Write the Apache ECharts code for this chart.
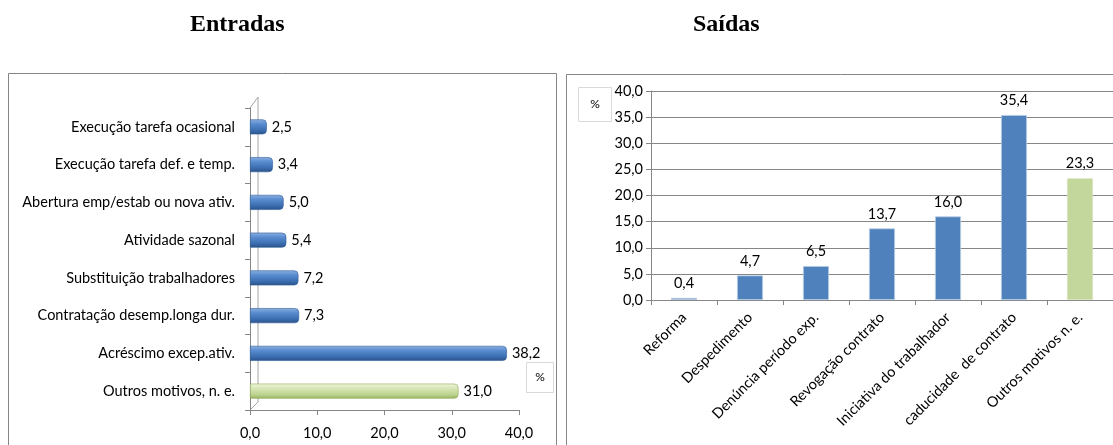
<!DOCTYPE html>
<html>
<head>
<meta charset="utf-8">
<script src="https://cdn.jsdelivr.net/npm/echarts@6/dist/echarts.min.js"></script>
<style>
html,body{margin:0;padding:0;background:#fff;}
#c{width:1113px;height:445px;}
</style>
</head>
<body>
<div id="c"></div>
<script>
// ---- Data ----
const entradasCategories = [
  'Execução tarefa ocasional',
  'Execução tarefa def. e temp.',
  'Abertura emp/estab ou nova ativ.',
  'Atividade sazonal',
  'Substituição trabalhadores',
  'Contratação desemp.longa dur.',
  'Acréscimo excep.ativ.',
  'Outros motivos, n. e.'
];
const entradasValues = [2.5, 3.4, 5.0, 5.4, 7.2, 7.3, 38.2, 31.0];

const saidasCategories = [
  'Reforma',
  'Despedimento',
  'Denúncia período exp.',
  'Revogação contrato',
  'Iniciativa do trabalhador',
  'caducidade  de contrato',
  'Outros motivos n. e.'
];
const saidasValues = [0.4, 4.7, 6.5, 13.7, 16.0, 35.4, 23.3];

const entradasTicks = [0, 10, 20, 30, 40];
const saidasTicks = [0, 5, 10, 15, 20, 25, 30, 35, 40];

// ---- Helpers ----
const fmt = v => Number(v).toFixed(1).replace('.', ',');
const FONT = 'Lato';
const FS = 14.5;
const AXIS_GRAY = '#868686';

const blueCyl = new echarts.graphic.LinearGradient(0, 0, 0, 1, [
  {offset: 0, color: '#8db0e0'},
  {offset: 0.3, color: '#5a8dd0'},
  {offset: 0.7, color: '#3d6fb3'},
  {offset: 1, color: '#2a5289'}
]);
const greenCyl = new echarts.graphic.LinearGradient(0, 0, 0, 1, [
  {offset: 0, color: '#eef5dd'},
  {offset: 0.35, color: '#d6e5b3'},
  {offset: 0.75, color: '#bcd28d'},
  {offset: 1, color: '#97b25c'}
]);

const leftGrid = {left: 250, top: 108, width: 269, height: 302};
const rightGrid = {left: 651, top: 91, width: 462, height: 209};

const chart = echarts.init(document.getElementById('c'), null, {renderer: 'canvas'});

const wallX = leftGrid.left + 8;
const option = {
  animation: false,
  backgroundColor: '#fff',
  textStyle: {fontFamily: FONT, color: '#000'},
  title: [
    {text: 'Entradas', left: 185, top: 8,
     textStyle: {fontFamily: 'Liberation Serif', fontWeight: 'bold', fontSize: 24, color: '#000'}},
    {text: 'Saídas', left: 688, top: 8,
     textStyle: {fontFamily: 'Liberation Serif', fontWeight: 'bold', fontSize: 24, color: '#000'}}
  ],
  grid: [
    Object.assign({containLabel: false}, leftGrid),
    Object.assign({containLabel: false}, rightGrid)
  ],
  xAxis: [
    {
      gridIndex: 0, type: 'value', min: entradasTicks[0], max: entradasTicks[entradasTicks.length - 1], interval: 10,
      axisLine: {show: true, lineStyle: {color: AXIS_GRAY}},
      axisTick: {show: true, length: 5, lineStyle: {color: AXIS_GRAY}},
      splitLine: {show: false},
      axisLabel: {formatter: fmt, fontFamily: FONT, fontSize: FS, color: '#000', margin: 16}
    },
    {
      gridIndex: 1, type: 'category', data: saidasCategories,
      axisLine: {show: true, lineStyle: {color: AXIS_GRAY}},
      axisTick: {show: true, length: 5, lineStyle: {color: AXIS_GRAY}},
      axisLabel: {rotate: 45, fontFamily: FONT, fontSize: FS, color: '#000', margin: 15, interval: 0}
    }
  ],
  yAxis: [
    {
      gridIndex: 0, type: 'category', data: entradasCategories, inverse: true,
      axisLine: {show: true, lineStyle: {color: AXIS_GRAY}},
      axisTick: {show: true, length: 5, lineStyle: {color: AXIS_GRAY}},
      axisLabel: {fontFamily: FONT, fontSize: FS, color: '#000', margin: 15, interval: 0}
    },
    {
      gridIndex: 1, type: 'value', min: saidasTicks[0], max: saidasTicks[saidasTicks.length - 1], interval: 5,
      axisLine: {show: true, lineStyle: {color: AXIS_GRAY}},
      axisTick: {show: true, length: 5, lineStyle: {color: AXIS_GRAY}},
      splitLine: {show: true, lineStyle: {color: AXIS_GRAY, width: 1}},
      axisLabel: {formatter: fmt, fontFamily: FONT, fontSize: FS, color: '#000', margin: 8}
    }
  ],
  series: [
    {
      type: 'bar', xAxisIndex: 0, yAxisIndex: 0, barWidth: 15,
      data: entradasValues.map((v, i) => ({
        value: v,
        itemStyle: {
          color: i === entradasValues.length - 1 ? greenCyl : blueCyl,
          borderColor: i === entradasValues.length - 1 ? '#8eaa55' : '#2f5d99',
          borderWidth: 0.6,
          borderRadius: [0, 4, 4, 0]
        }
      })),
      label: {show: true, position: 'right', distance: 5, formatter: p => fmt(p.value),
              fontFamily: FONT, fontSize: FS, color: '#000'}
    },
    {
      type: 'bar', xAxisIndex: 1, yAxisIndex: 1, barWidth: 26,
      data: saidasValues.map((v, i) => ({
        value: v,
        itemStyle: {
          color: i === saidasValues.length - 1 ? '#c3d69b' : '#4f81bd',
          borderColor: i === saidasValues.length - 1 ? '#d7e4bd' : '#b9cde5',
          borderWidth: 0.8
        }
      })),
      label: {show: true, position: 'top', distance: 7, formatter: p => fmt(p.value),
              fontFamily: FONT, fontSize: FS, color: '#000'}
    }
  ],
  graphic: [
    // panel borders
    {type: 'rect', shape: {x: 8.5, y: 73.5, width: 548, height: 420}, style: {fill: 'none', stroke: AXIS_GRAY, lineWidth: 1}, z: -1},
    {type: 'rect', shape: {x: 566.5, y: 74.5, width: 560, height: 420}, style: {fill: 'none', stroke: AXIS_GRAY, lineWidth: 1}, z: -1},
    // 3D wall of left chart
    {type: 'polyline', shape: {points: [
      [leftGrid.left, leftGrid.top], [wallX, leftGrid.top - 11],
      [wallX, leftGrid.top + leftGrid.height - 8], [leftGrid.left, leftGrid.top + leftGrid.height]
    ]}, style: {stroke: '#a6a6a6', lineWidth: 1, fill: 'none'}, z: 0},
    // % boxes
    {type: 'rect', shape: {x: 526.5, y: 362.5, width: 27, height: 30}, style: {fill: '#fff', stroke: '#d9d9d9', lineWidth: 1}, z: 5},
    {type: 'text', x: 540, y: 377, style: {text: '%', fontFamily: FONT, fontSize: 12, fill: '#000', align: 'center', verticalAlign: 'middle'}, z: 6},
    {type: 'rect', shape: {x: 578.5, y: 87.5, width: 33, height: 34}, style: {fill: '#fff', stroke: '#d9d9d9', lineWidth: 1}, z: 5},
    {type: 'text', x: 595, y: 104, style: {text: '%', fontFamily: FONT, fontSize: 12, fill: '#000', align: 'center', verticalAlign: 'middle'}, z: 6}
  ]
};
chart.setOption(option);
</script>
</body>
</html>
